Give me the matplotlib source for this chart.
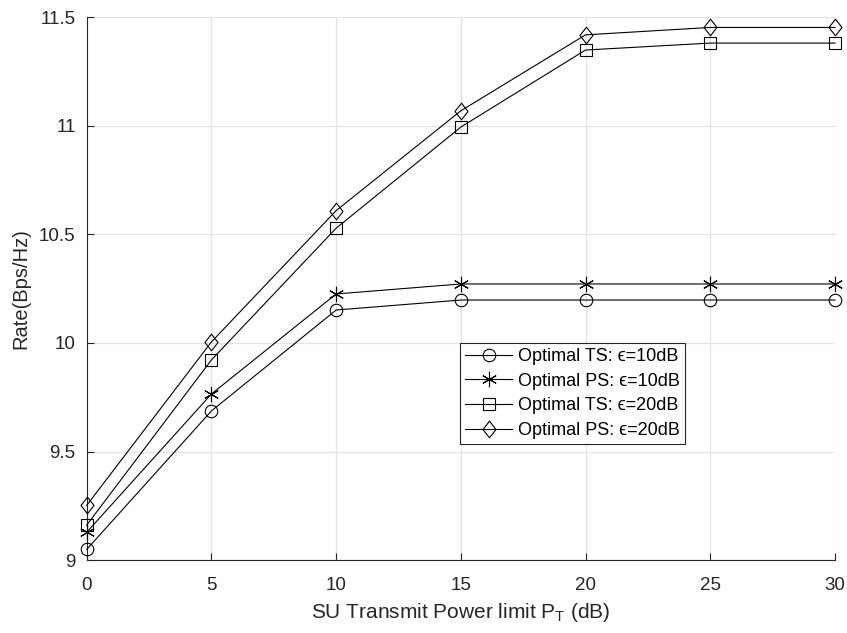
import matplotlib
matplotlib.use("Agg")
import matplotlib.pyplot as plt
from matplotlib.path import Path

# data
power_db = [0, 5, 10, 15, 20, 25, 30]
ts_10db = [9.049, 9.687, 10.152, 10.198, 10.198, 10.198, 10.198]
ps_10db = [9.128, 9.765, 10.226, 10.272, 10.272, 10.272, 10.272]
ts_20db = [9.161, 9.922, 10.529, 10.995, 11.350, 11.382, 11.382]
ps_20db = [9.252, 10.005, 10.610, 11.070, 11.420, 11.454, 11.454]

# MATLAB-like diamond (wider than matplotlib 'd')
diamond = Path([(0, 1), (0.78, 0), (0, -1), (-0.78, 0), (0, 1)],
               [Path.MOVETO, Path.LINETO, Path.LINETO, Path.LINETO, Path.CLOSEPOLY])

series = [
    (ts_10db, 'o', 9, 'Optimal TS: \u03f5=10dB'),
    (ps_10db, (6, 2, 0), 11, 'Optimal PS: \u03f5=10dB'),
    (ts_20db, 's', 8.5, 'Optimal TS: \u03f5=20dB'),
    (ps_20db, diamond, 12, 'Optimal PS: \u03f5=20dB'),
]

plt.rcParams['font.family'] = ['Liberation Sans', 'DejaVu Sans']
plt.rcParams['mathtext.fontset'] = 'custom'
plt.rcParams['mathtext.rm'] = 'Liberation Sans'

fig = plt.figure(figsize=(8.47, 6.33), dpi=100)
ax = fig.add_axes([0.1024, 0.1153, 0.8834, 0.8571])

for vals, mk, ms, lab in series:
    ax.plot(power_db, vals, color='black', lw=0.8, marker=mk, markersize=ms,
            markerfacecolor='none', markeredgecolor='black', markeredgewidth=0.8,
            label=lab, clip_on=False, zorder=3)

ax.set_xlim(0, 30)
ax.set_ylim(9, 11.5)
ax.set_xticks([0, 5, 10, 15, 20, 25, 30])
ax.set_yticks([9, 9.5, 10, 10.5, 11, 11.5])
ax.set_yticklabels(['9', '9.5', '10', '10.5', '11', '11.5'])

ax.grid(True, color='#e3e3e3', lw=0.9)
ax.set_axisbelow(True)
for s in ['top', 'right']:
    ax.spines[s].set_visible(False)
for s in ['left', 'bottom']:
    ax.spines[s].set_color('#262626')
    ax.spines[s].set_linewidth(0.8)
ax.tick_params(direction='in', length=5, width=0.8, colors='#262626',
               labelsize=13.5, pad=8)
ax.tick_params(axis='x', pad=12)

ax.set_xlabel(r'SU Transmit Power limit P$_\mathregular{T}$ (dB)', fontsize=15,
              color='#262626', labelpad=5)
ax.set_ylabel('Rate(Bps/Hz)', fontsize=14.5, color='#262626', labelpad=6)

leg = ax.legend(loc='upper left', bbox_to_anchor=(0.4989, 0.4006), fontsize=13,
                fancybox=False, framealpha=1, edgecolor='#262626',
                handlelength=2.6, handletextpad=0.3, borderpad=0.3,
                labelspacing=0.42, borderaxespad=0)
leg.get_frame().set_linewidth(0.8)

fig.savefig('out.png', dpi=100)
